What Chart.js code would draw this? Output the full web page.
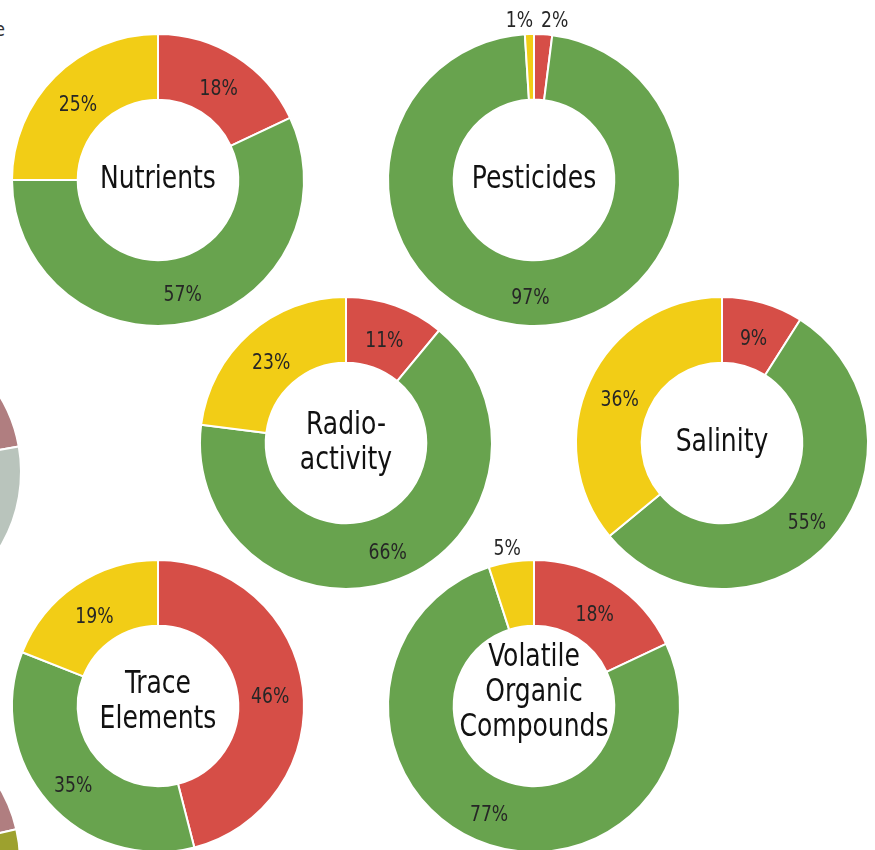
<!DOCTYPE html>
<html>
<head>
<meta charset="utf-8">
<script src="https://cdn.jsdelivr.net/npm/chart.js@4"></script>
<style>
  html, body { margin: 0; padding: 0; background: #fff; }
  body { width: 875px; height: 850px; position: relative; overflow: hidden; }
  canvas { position: absolute; }
  .cut { position: absolute; left: -120px; top: 18px; width: 125px; text-align: right;
         font: 19px "Liberation Sans Narrow", "DejaVu Sans Condensed", sans-serif; color: #333; }
</style>
</head>
<body>
<div class="cut">Type</div>
<script>
// contaminant groups, one doughnut each
const groups = ['Nutrients', 'Pesticides', 'Radio-\nactivity', 'Salinity', 'Trace\nElements', 'Volatile\nOrganic\nCompounds'];
const highValues = [18, 2, 11, 9, 46, 18];      // red
const lowValues = [57, 97, 66, 55, 35, 77];     // green
const moderateValues = [25, 1, 23, 36, 19, 5];  // yellow

// cut-off neighbour pies at the left edge
const leftPieTopValues = [6, 16.2, 22, 55.8];
const leftPieBottomValues = [10, 11.4, 23.6, 55];

const RED = '#D64E47', GREEN = '#68A34E', YELLOW = '#F2CD16';
const FONT = '"Liberation Sans Narrow", "DejaVu Sans Condensed", sans-serif';
const SQUEEZE = 0.87; // fake a condensed face

// layout (centres of each doughnut on the page)
const centers = [[158, 180], [534, 180], [346, 443], [722, 443], [158, 706], [534, 706]];
const titleShift = [0, 0, 0, 0, -4, -13];
const SIZE = 340;

function narrowText(ctx, txt, x, y) {
  ctx.save();
  ctx.translate(x, y);
  ctx.scale(SQUEEZE, 1);
  ctx.fillText(txt, 0, 0);
  ctx.restore();
}

const labelPlugin = {
  id: 'labels',
  afterDatasetsDraw(chart) {
    const ctx = chart.ctx;
    const meta = chart.getDatasetMeta(0);
    const vals = chart.data.datasets[0].data;
    ctx.save();
    ctx.fillStyle = '#262626';
    ctx.font = '22px ' + FONT;
    ctx.textBaseline = 'middle';
    meta.data.forEach((arc, i) => {
      const v = vals[i];
      if (v >= 6) {
        const p = arc.tooltipPosition();
        ctx.textAlign = 'center';
        narrowText(ctx, v + '%', p.x, p.y + 5);
      } else {
        const mid = (arc.startAngle + arc.endAngle) / 2;
        const r = arc.outerRadius + 13;
        let x = arc.x + Math.cos(mid) * r;
        const y = arc.y + Math.sin(mid) * r;
        const c = Math.cos(mid);
        if (Math.abs(c) < 0.1) {
          ctx.textAlign = c < 0 ? 'right' : 'left';
          x = arc.x + (c < 0 ? -1 : 7);
        } else {
          ctx.textAlign = 'center';
          x -= 2;
        }
        narrowText(ctx, v + '%', x, y);
      }
    });
    const title = chart.options.plugins.centerTitle;
    if (title) {
      const lines = title.text.split('\n');
      const lh = 35;
      const a = meta.data[0];
      ctx.fillStyle = '#111';
      ctx.font = '32px ' + FONT;
      ctx.textAlign = 'center';
      lines.forEach((ln, k) => {
        narrowText(ctx, ln, a.x, a.y + title.shift + (k - (lines.length - 1) / 2) * lh);
      });
    }
    ctx.restore();
  }
};

function makeCanvas(cx, cy) {
  const cv = document.createElement('canvas');
  cv.width = SIZE; cv.height = SIZE;
  cv.style.width = SIZE + 'px'; cv.style.height = SIZE + 'px';
  cv.style.left = (cx - SIZE / 2) + 'px';
  cv.style.top = (cy - SIZE / 2) + 'px';
  document.body.appendChild(cv);
  return cv;
}

groups.forEach((name, i) => {
  const cv = makeCanvas(centers[i][0], centers[i][1]);
  new Chart(cv, {
    type: 'doughnut',
    data: {
      labels: ['High', 'Low', 'Moderate'],
      datasets: [{
        data: [highValues[i], lowValues[i], moderateValues[i]],
        backgroundColor: [RED, GREEN, YELLOW],
        borderColor: '#fff',
        borderWidth: 2
      }]
    },
    options: {
      responsive: false,
      animation: false,
      cutout: '55%',
      layout: { padding: 23 },
      plugins: {
        legend: { display: false },
        tooltip: { enabled: false },
        centerTitle: { text: name, shift: titleShift[i] }
      }
    },
    plugins: [labelPlugin]
  });
});

function edgePie(cx, cy, values, colors) {
  const cv = makeCanvas(cx, cy);
  new Chart(cv, {
    type: 'pie',
    data: {
      labels: values.map((v, k) => 'part ' + k),
      datasets: [{ data: values, backgroundColor: colors, borderColor: '#fff', borderWidth: 2 }]
    },
    options: {
      responsive: false,
      animation: false,
      layout: { padding: 23 },
      plugins: { legend: { display: false }, tooltip: { enabled: false } }
    }
  });
}

edgePie(-125, 472, leftPieTopValues, ['#C9B26B', '#B07E80', '#B9C4BC', '#7A9CB3']);
edgePie(-126, 862, leftPieBottomValues, ['#7A9CB3', '#B07E80', '#9DA12E', '#C9B26B']);
</script>
</body>
</html>
